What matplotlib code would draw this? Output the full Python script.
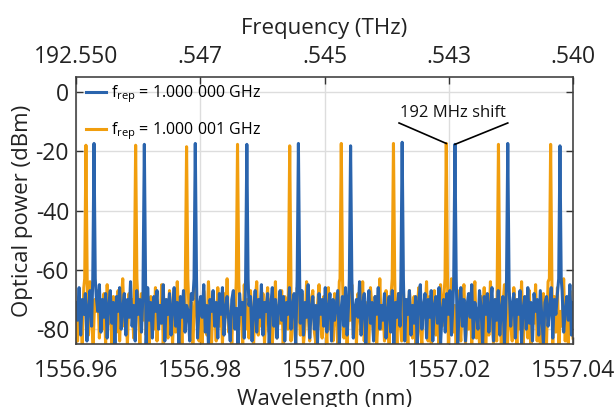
import numpy as np
import matplotlib
matplotlib.use("Agg")
import matplotlib.pyplot as plt

plt.rcParams['font.family'] = ['Open Sans', 'DejaVu Sans']
plt.rcParams['axes.unicode_minus'] = False

# ---- data ----
wl_ticks = [1556.96, 1556.98, 1557.00, 1557.02, 1557.04]
wl_labels = ["1556.96", "1556.98", "1557.00", "1557.02", "1557.04"]
freq_ticks = [192.550, 192.5475, 192.545, 192.5425, 192.540]
freq_labels = ["192.550", ".547", ".545", ".543", ".540"]
y_ticks = [0, -20, -40, -60, -80]

blue_peak_wl = [1556.9629, 1556.9710, 1556.9792, 1556.9875, 1556.9958,
                1557.0042, 1557.0125, 1557.0210, 1557.0295, 1557.0379]
blue_peak_db = [-17.4, -17.7, -17.4, -17.7, -17.4, -18.2, -17.0, -17.7, -17.4, -18.2]
orange_peak_wl = [1556.9616, 1556.9696, 1556.9778, 1556.9860, 1556.9944,
                  1557.0027, 1557.0111, 1557.0196, 1557.0280, 1557.0364]
orange_peak_db = [-18.0, -18.0, -18.5, -17.7, -18.2, -17.4, -17.4, -17.4, -17.7, -17.7]

blue_noise = [
-71,-77,-66,-82,-70,-75,-68,-84,-73,-67,-79,-72,-85,-69,-74,-65,-81,-70,-76,-68,
-83,-72,-67,-78,-71,-85,-69,-74,-66,-80,-73,-68,-82,-70,-76,-64,-79,-72,-84,-67,
-75,-70,-81,-68,-73,-85,-66,-77,-71,-83,-69,-74,-67,-80,-72,-78,-65,-84,-70,-75,
-68,-82,-73,-66,-79,-71,-85,-69,-76,-67,-81,-72,-74,-84,-68,-70,-78,-66,-83,-73,
-69,-76,-65,-81,-72,-85,-70,-74,-67,-79,-71,-83,-68,-75,-66,-82,-73,-69,-77,-84,
-70,-67,-80,-73,-85,-68,-75,-71,-83,-66,-78,-72,-69,-84,-74,-67,-81,-70,-76,-65,
-82,-71,-74,-68,-85,-72,-66,-79,-70,-83,-73,-67,-77,-69,-84,-71,-75,-66,-80,-72,
-68,-85,-74,-70,-78,-67,-82,-71,-76,-65,-83,-73,-69,-80,-72,-85,-68,-75,-70,-79,
-66,-81,-73,-68,-84,-70,-77,-72,-67,-85,-74,-69,-79,-66,-82,-71,-75,-68,-83,-73,
-70,-76,-64,-82,-72,-68,-85,-73,-67,-78,-71,-84,-69,-75,-66,-80,-72,-77,-68,-83,
-74,-69,-81,-67,-85,-71,-76,-68,-79,-73,-66,-84,-70,-75,-67,-82,-72,-78,-69,-85,
-71,-65,-80,-73,-68,-83,-70,-76,-67,-84,-72,-69,-78,-66,-85,-74,-70,-81,-68,-75,
-67,-82,-71,-77,-69,-85,-73,-66,-79,-70,-84,-72,-68,-76,-65,-83,-71,-74,-80,-67,
-73,-85,-69,-75,-68,-81,-72,-66,-84,-70,-77,-67,-82,-73,-69,-85,-71,-76,-66,-79,
-72,-68,-83,-70,-75,-67,-85,-73,-69,-80,-66,-78,-71,-84,-68,-74,-70,-82,-67,-76,
-85,-71,-69,-79,-73,-66,-83,-70,-75,-68,-84,-72,-67,-81,-74,-69,-77,-65,-82,-71]

orange_noise = [
-76,-84,-69,-73,-85,-66,-79,-71,-82,-64,-77,-85,-70,-74,-67,-83,-72,-80,-68,-85,
-65,-78,-72,-85,-69,-75,-81,-67,-84,-71,-63,-79,-74,-85,-68,-76,-70,-83,-66,-80,
-73,-85,-68,-77,-64,-82,-71,-85,-69,-75,-80,-66,-84,-72,-78,-65,-85,-70,-76,-83,
-67,-74,-85,-69,-81,-64,-78,-72,-85,-68,-76,-83,-66,-80,-71,-85,-73,-65,-79,-84,
-70,-85,-67,-77,-82,-64,-75,-85,-69,-73,-84,-66,-79,-71,-85,-68,-76,-63,-81,-74,
-85,-69,-78,-66,-84,-72,-75,-85,-65,-80,-70,-83,-67,-77,-85,-71,-64,-82,-73,-79,
-68,-85,-74,-66,-81,-70,-85,-76,-64,-83,-72,-78,-67,-85,-69,-75,-80,-65,-84,-71,
-77,-85,-66,-73,-82,-68,-85,-79,-64,-75,-84,-70,-67,-81,-85,-72,-65,-78,-83,-69,
-74,-85,-66,-80,-71,-84,-68,-76,-85,-64,-79,-73,-83,-67,-85,-70,-77,-65,-82,-72,
-85,-68,-75,-81,-64,-84,-71,-78,-85,-66,-73,-83,-69,-85,-76,-63,-80,-72,-84,-67,
-79,-85,-70,-65,-82,-74,-85,-68,-77,-84,-64,-81,-71,-85,-67,-75,-83,-69,-85,-73,
-66,-80,-85,-71,-76,-64,-84,-69,-85,-78,-67,-82,-73,-85,-65,-79,-70,-84,-68,-85,
-75,-63,-81,-72,-85,-67,-78,-84,-70,-65,-85,-74,-80,-68,-85,-71,-64,-83,-76,-85,
-69,-79,-66,-85,-73,-82,-64,-77,-85,-70,-84,-67,-75,-85,-72,-65,-81,-85,-68,-78,
-84,-66,-74,-85,-70,-80,-64,-85,-76,-69,-83,-67,-85,-72,-78,-65,-84,-71,-85,-75,
-68,-82,-85,-64,-77,-73,-85,-69,-81,-66,-85,-74,-79,-63,-84,-70,-85,-67,-76,-83]

BLUE = "#2a64ad"
ORANGE = "#f19e0e"


def build_trace(noise, peak_wl, peak_db, x0=1556.96, x1=1557.04, half=0.0002, skirt=-63):
    x = np.linspace(x0, x1, len(noise))
    y = np.array(noise, dtype=float)
    keep = np.ones(len(x), bool)
    for w in peak_wl:
        keep &= np.abs(x - w) > half
    xs = list(x[keep])
    ys = list(y[keep])
    for w, p in zip(peak_wl, peak_db):
        xs += [w - half, w, w + half]
        ys += [skirt, p, skirt]
    order = np.argsort(xs)
    return np.array(xs)[order], np.array(ys)[order]


fig = plt.figure(figsize=(6.16, 4.07), dpi=100)
ax = fig.add_axes([76 / 616, 1 - 344 / 407, 497 / 616, (344 - 77) / 407])

xo, yo = build_trace(orange_noise, orange_peak_wl, orange_peak_db)
xb, yb = build_trace(blue_noise, blue_peak_wl, blue_peak_db)
lo, = ax.plot(xo, yo, color=ORANGE, lw=2.2, label="f$_\\mathregular{rep}$ = 1.000 001 GHz")
lb, = ax.plot(xb, yb, color=BLUE, lw=2.2, label="f$_\\mathregular{rep}$ = 1.000 000 GHz")

ax.set_xlim(wl_ticks[0], wl_ticks[-1])
ax.set_ylim(-85, 5)
ax.set_xticks(wl_ticks)
ax.set_xticklabels(wl_labels)
ax.set_yticks(y_ticks)
ax.grid(True, color="#dddddd", lw=1.0)
ax.set_axisbelow(True)
ax.tick_params(axis="both", direction="in", length=5, width=1, labelsize=16.5, color="#333333",
               labelcolor="#222222", right=True, top=False)
ax.tick_params(axis="x", pad=11)
ax.tick_params(axis="y", pad=5)
ax.set_xlabel("Wavelength (nm)", fontsize=16, color="#222222", labelpad=4)
ax.set_ylabel("Optical power (dBm)", fontsize=16, color="#222222", labelpad=2)
for s in ax.spines.values():
    s.set_color("#444444")
    s.set_linewidth(1.2)

ax2 = ax.twiny()
ax2.set_xlim(freq_ticks[0], freq_ticks[-1])
ax2.set_xticks(freq_ticks)
ax2.set_xticklabels(freq_labels)
ax2.tick_params(direction="in", length=5, width=1, labelsize=16.5, color="#333333",
                labelcolor="#222222", pad=6)
ax2.set_xlabel("Frequency (THz)", fontsize=16, color="#222222", labelpad=8)
for s in ax2.spines.values():
    s.set_visible(False)

leg = ax.legend(handles=[lb, lo], loc="upper left", frameon=False, fontsize=11.5,
                handlelength=1.3, handletextpad=0.3, labelspacing=0.95,
                borderaxespad=0.2, bbox_to_anchor=(0.0, 1.012))

# annotation
ax.text(1557.0207, -7.3, "192 MHz shift", ha="center", va="center", fontsize=12, color="#111111")
ax.plot([1557.0120, orange_peak_wl[7]], [-10.5, orange_peak_db[7]], color="black", lw=1.2)
ax.plot([1557.0295, blue_peak_wl[7]], [-10.5, blue_peak_db[7]], color="black", lw=1.2)

fig.savefig("out.png", dpi=100)
